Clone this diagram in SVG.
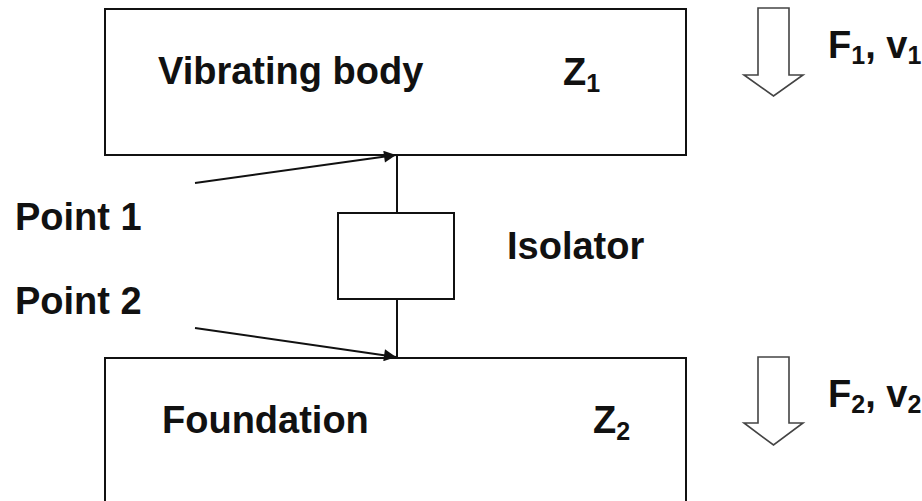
<svg xmlns="http://www.w3.org/2000/svg" width="922" height="501" viewBox="0 0 922 501">
<defs>
<style>
.box{fill:#fff;stroke:#111;stroke-width:2}
.ln{fill:none;stroke:#111;stroke-width:2}
.force{fill:#fff;stroke:#444;stroke-width:1.6;stroke-linejoin:miter}
text{font-family:"Liberation Sans",Arial,sans-serif;font-weight:bold;font-size:38px;fill:#111}
.sub{font-size:25px}
</style>
<marker id="ah" viewBox="0 0 10 10" refX="10" refY="5" markerWidth="16" markerHeight="12" markerUnits="userSpaceOnUse" orient="auto">
<path d="M0,0 L10,5 L0,10 Z" fill="#111"/>
</marker>
</defs>
<rect width="922" height="501" fill="#fff"/>
<g id="vibrating-body">
<rect class="box" x="105" y="9" width="581" height="146"/>
<text x="158" y="84">Vibrating body</text>
<text x="563" y="85">Z<tspan class="sub" dy="7">1</tspan></text>
</g>
<g id="isolator">
<rect class="box" x="338" y="213" width="116" height="86"/>
<text x="507" y="259">Isolator</text>
</g>
<g id="foundation">
<rect class="box" x="105" y="358" width="581" height="150"/>
<text x="162" y="433">Foundation</text>
<text x="593" y="433">Z<tspan class="sub" dy="7">2</tspan></text>
</g>
<g id="force1">
<path class="force" d="M758,8 H789 V75 H803 L773.5,96 L744,75 H758 Z"/>
<text x="828" y="58">F<tspan class="sub" dy="6">1</tspan><tspan dy="-6">, v</tspan><tspan class="sub" dy="6">1</tspan></text>
</g>
<g id="force2">
<path class="force" d="M758,357 H789 V423 H803 L773.5,445 L744,423 H758 Z"/>
<text x="828" y="407">F<tspan class="sub" dy="6">2</tspan><tspan dy="-6">, v</tspan><tspan class="sub" dy="6">2</tspan></text>
</g>
<g id="labels">
<text x="15" y="230">Point 1</text>
<text x="15" y="314">Point 2</text>
</g>
<g id="connectors">
<line class="ln" x1="397" y1="155" x2="397" y2="213"/>
<line class="ln" x1="397" y1="299" x2="397" y2="358"/>
<line class="ln" x1="195" y1="183" x2="396" y2="155" marker-end="url(#ah)"/>
<line class="ln" x1="195" y1="328" x2="396" y2="357" marker-end="url(#ah)"/>
</g>
</svg>
